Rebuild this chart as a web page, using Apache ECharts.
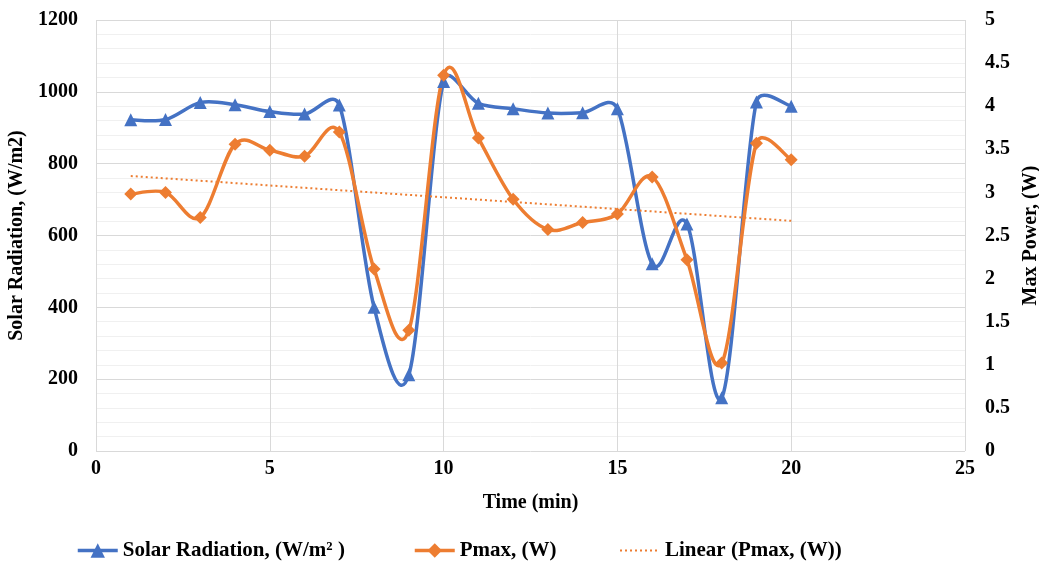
<!DOCTYPE html>
<html>
<head>
<meta charset="utf-8">
<script src="https://cdn.jsdelivr.net/npm/echarts@6/dist/echarts.min.js"></script>
<style>
  html, body { margin: 0; padding: 0; background: #fff; }
  #chart { width: 1039px; height: 566px; }
</style>
</head>
<body>
<div id="chart"></div>
<script>
// time in minutes
var timeMin = [1, 2, 3, 4, 5, 6, 7, 8, 9, 10, 11, 12, 13, 14, 15, 16, 17, 18, 19, 20];
// solar radiation, W/m2 (left axis)
var solarRadiation = [922, 923, 970, 964, 945, 938, 963, 400, 212, 1029, 968, 953, 941, 942, 953, 521, 632, 148, 972, 960];
// max power, W (right axis)
var pmax = [2.98, 3.00, 2.71, 3.56, 3.49, 3.42, 3.70, 2.11, 1.40, 4.36, 3.63, 2.92, 2.57, 2.65, 2.75, 3.18, 2.22, 1.02, 3.57, 3.38];
// linear trend of Pmax, end points
var trendX = [1, 20];
var trendY = [3.19, 2.67];

var font = 'Liberation Serif';
var blue = '#4472C4';
var orange = '#ED7D31';
var lineW = 3.5;

function pairs(xs, ys) {
    return xs.map(function (x, i) { return [x, ys[i]]; });
}

function dist(a, b) {
    return Math.sqrt((a[0] - b[0]) * (a[0] - b[0]) + (a[1] - b[1]) * (a[1] - b[1]));
}

// excel-like smoothed line through the points (mapped with api.coord),
// control arm = min(|next-prev|/6, |segment|/2) along next-prev
function ctrl(from, a, b, seg, sign) {
    var d = dist(a, b);
    if (d === 0) return [from[0], from[1]];
    var len = Math.min(d / 6, seg / 2);
    return [from[0] + sign * (b[0] - a[0]) / d * len, from[1] + sign * (b[1] - a[1]) / d * len];
}

function splineSeries(xs, ys, yAxisIndex, color) {
    return {
        type: 'custom',
        yAxisIndex: yAxisIndex,
        silent: true,
        z: 1,
        data: pairs(xs, ys),
        renderItem: function (params, api) {
            if (params.dataIndex !== 0) return;
            var p = xs.map(function (x, i) { return api.coord([x, ys[i]]); });
            var n = p.length;
            var d = 'M' + p[0][0] + ' ' + p[0][1];
            for (var i = 0; i < n - 1; i++) {
                var p0 = p[i > 0 ? i - 1 : i], p1 = p[i], p2 = p[i + 1], p3 = p[i + 2 < n ? i + 2 : i + 1];
                var seg = dist(p1, p2);
                var c1 = ctrl(p1, p0, p2, seg, 1);
                var c2 = ctrl(p2, p1, p3, seg, -1);
                d += ' C' + c1[0] + ' ' + c1[1] + ' ' + c2[0] + ' ' + c2[1] + ' ' + p2[0] + ' ' + p2[1];
            }
            return {
                type: 'path',
                shape: { pathData: d },
                style: { fill: 'none', stroke: color, lineWidth: lineW, lineJoin: 'round' }
            };
        }
    };
}

var myChart = echarts.init(document.getElementById('chart'));
var txt = { fontFamily: font, fontWeight: 'bold', fontSize: 20, color: '#000' };
var legendText = { fontFamily: font, fontWeight: 'bold', fontSize: 21, color: '#000' };

myChart.setOption({
    animation: false,
    grid: { left: 96, right: 74, top: 20, bottom: 115, outerBoundsMode: 'none', containLabel: false },
    legend: [
        { data: [{ name: 'Solar Radiation, (W/m² )', lineStyle: { opacity: 1, width: lineW, color: blue } }],
          left: 71, top: 535, itemWidth: 40, itemHeight: 18, textStyle: legendText },
        { data: [{ name: 'Pmax, (W)', lineStyle: { opacity: 1, width: lineW, color: orange } }],
          left: 408, top: 535, itemWidth: 40, itemHeight: 18, textStyle: legendText },
        { data: [{ name: 'Linear (Pmax, (W))', itemStyle: { opacity: 0 } }],
          left: 614, top: 535, itemWidth: 40, itemHeight: 18, textStyle: legendText }
    ],
    xAxis: {
        type: 'value',
        min: 0,
        max: 25,
        interval: 5,
        name: 'Time (min)',
        nameLocation: 'middle',
        nameGap: 42,
        nameTextStyle: txt,
        axisLine: { show: false },
        axisTick: { show: false },
        axisLabel: Object.assign({ margin: 8 }, txt),
        splitLine: { show: true, lineStyle: { color: '#d9d9d9', width: 1 } }
    },
    yAxis: [
        {
            type: 'value',
            min: 0,
            max: 1200,
            interval: 200,
            name: 'Solar Radiation, (W/m2)',
            nameLocation: 'middle',
            nameGap: 62,
            nameTextStyle: txt,
            axisLine: { show: false },
            axisTick: { show: false },
            axisLabel: Object.assign({ margin: 18, formatter: function (v) { return String(v); } }, txt),
            splitLine: { show: true, lineStyle: { color: '#d9d9d9', width: 1 } },
            minorTick: { show: false, splitNumber: 5 },
            minorSplitLine: { show: true, lineStyle: { color: '#f0f0f0', width: 1 } }
        },
        {
            type: 'value',
            min: 0,
            max: 5,
            interval: 0.5,
            position: 'right',
            name: 'Max Power, (W)',
            nameLocation: 'middle',
            nameGap: 50,
            nameTextStyle: txt,
            axisLine: { show: false },
            axisTick: { show: false },
            axisLabel: Object.assign({ margin: 20 }, txt),
            splitLine: { show: false }
        }
    ],
    series: [
        splineSeries(timeMin, solarRadiation, 0, blue),
        splineSeries(timeMin, pmax, 1, orange),
        {
            name: 'Solar Radiation, (W/m² )',
            type: 'line',
            yAxisIndex: 0,
            z: 3,
            symbol: 'triangle',
            symbolSize: 13,
            itemStyle: { color: blue },
            lineStyle: { color: blue, width: lineW, opacity: 0 },
            data: pairs(timeMin, solarRadiation)
        },
        {
            name: 'Pmax, (W)',
            type: 'line',
            yAxisIndex: 1,
            z: 3,
            symbol: 'diamond',
            symbolSize: 13,
            itemStyle: { color: orange },
            lineStyle: { color: orange, width: lineW, opacity: 0 },
            data: pairs(timeMin, pmax)
        },
        {
            name: 'Linear (Pmax, (W))',
            type: 'line',
            yAxisIndex: 1,
            z: 2,
            symbol: 'none',
            itemStyle: { color: orange },
            lineStyle: { color: orange, width: 2, type: [2, 3] },
            data: pairs(trendX, trendY)
        }
    ]
});
</script>
</body>
</html>
